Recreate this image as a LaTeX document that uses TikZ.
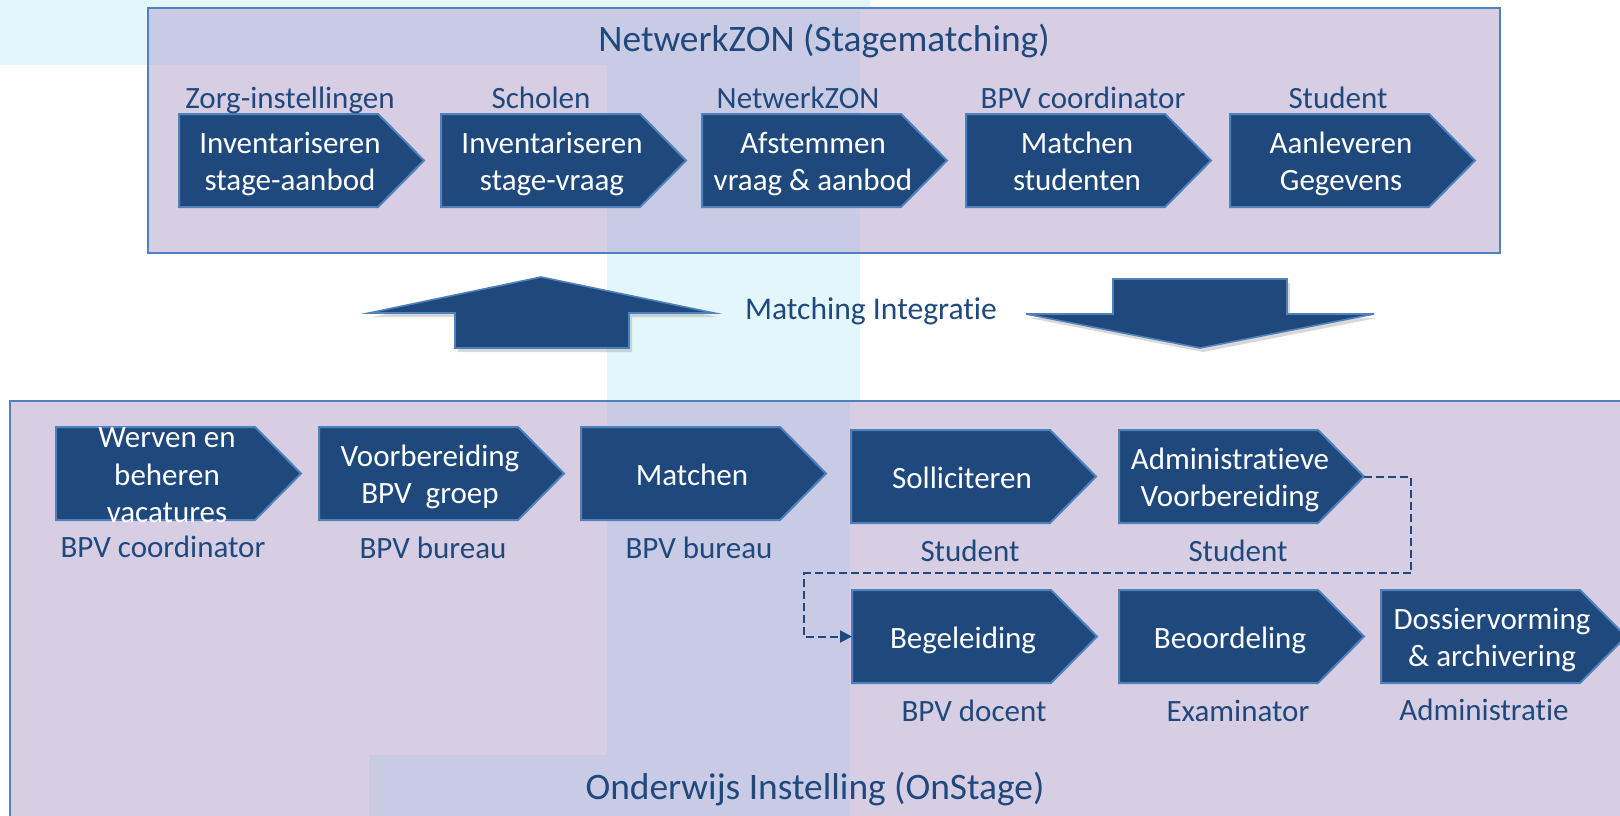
\documentclass[tikz,border=0pt]{standalone}
\usepackage{fontspec}
\setmainfont{Carlito}[Ligatures=NoCommon]
\usetikzlibrary{arrows.meta,shadows}
\definecolor{dkblue}{HTML}{1F497D}
\definecolor{edgeblue}{HTML}{4F81BD}
\definecolor{lav}{HTML}{D7CEE3}
\definecolor{tint}{HTML}{C9CAE4}
\definecolor{cyanbg}{HTML}{E3F6FC}
\tikzset{
  chevshape/.style={fill=dkblue, draw=edgeblue, line width=1pt, line join=miter},
  chevtext/.style={text=white, align=center, font=\fontsize{15.5}{18.8}\selectfont, inner sep=0pt},
  role/.style={text=dkblue, font=\fontsize{15.5}{18.8}\selectfont, anchor=base, inner sep=0pt},
  bigtitle/.style={text=dkblue, font=\fontsize{18.7}{22}\selectfont, anchor=base, inner sep=0pt},
  frame/.style={draw=edgeblue, line width=1pt},
  bigarrow/.style={fill=dkblue, draw=edgeblue, line width=0.8pt,
    drop shadow={opacity=0.3, shadow xshift=1.5pt, shadow yshift=-2pt}},
  flow/.style={draw=dkblue, line width=1pt, dash pattern=on 4pt off 2pt,
    -{Triangle[length=6pt,width=6pt]}}
}
\newcommand\chevron[4]{%
  \draw[chevshape] (#2,#3) -- ++(199,0) -- ++(46,46.5) -- ++(-46,46.5) -- ++(-199,0) -- cycle;
  \node[chevtext] (#1) at ({#2+111},{#3+50.5}) {\strut #4\strut};
  \coordinate (#1-w) at (#2,{#3+46.5});
  \coordinate (#1-e) at ({#2+245},{#3+46.5});
}
\begin{document}
\begin{tikzpicture}[x=0.5pt,y=-0.5pt]
\useasboundingbox (0,0) rectangle (1620,815);
\clip (0,0) rectangle (1620,815);
% background
\fill[white] (0,0) rectangle (1620,815);
\fill[cyanbg] (0,0) rectangle (870,65);
\fill[cyanbg] (607,0) rectangle (860,815);
% top frame
\fill[lav] (148,8) rectangle (1500,253);
\fill[tint] (148,8) rectangle (607,65);
\fill[tint] (607,8) rectangle (860,253);
\draw[frame] (148,8) rectangle (1500,253);
% bottom frame
\fill[lav] (10,401) rectangle (1640,830);
\fill[tint] (607,401) rectangle (850,830);
\fill[tint] (369,755) rectangle (607,830);
\draw[frame] (10,401) rectangle (1640,830);
% titles
\node[bigtitle] (ttop) at (824,51) {NetwerkZON (Stagematching)};
\node[bigtitle] (tbot) at (815,799) {Onderwijs Instelling (OnStage)};
\node[role, font=\fontsize{15.8}{19}\selectfont] (tmid) at (871,319) {Matching Integratie};
% big arrows
\draw[bigarrow] (541,277) -- (714,313) -- (629,313) -- (629,348) -- (455,348) -- (455,313) -- (369,313) -- cycle;
\draw[bigarrow] (1113,279) -- (1287,279) -- (1287,314) -- (1374,314) -- (1200,348) -- (1026,314) -- (1113,314) -- cycle;
% top row
\chevron{t1}{179}{114}{Inventariseren\\stage-aanbod}
\chevron{t2}{441}{114}{Inventariseren\\stage-vraag}
\chevron{t3}{702}{114}{Afstemmen\\vraag \& aanbod}
\chevron{t4}{966}{114}{Matchen\\studenten}
\chevron{t5}{1230}{114}{Aanleveren\\Gegevens}
\node[role] (rt1) at (290,108) {Zorg-instellingen};
\node[role] (rt2) at (541,108) {Scholen};
\node[role] (rt3) at (798,108) {NetwerkZON};
\node[role] (rt4) at (1083,108) {BPV coordinator};
\node[role] (rt5) at (1338,108) {Student};
% bottom rows
\chevron{wer}{56}{427}{Werven en\\beheren\\vacatures}
\chevron{voo}{319}{427}{Voorbereiding\\BPV\ \ groep}
\chevron{mat}{581}{427}{Matchen}
\chevron{sol}{851}{430}{Solliciteren}
\chevron{adm}{1119}{430}{Administratieve\\Voorbereiding}
\chevron{beg}{852}{590}{Begeleiding}
\chevron{beo}{1119}{590}{Beoordeling}
\chevron{dos}{1381}{590}{Dossiervorming\\\& archivering}
\node[role] (rwer) at (163,557) {BPV coordinator};
\node[role] (rvoo) at (433,558) {BPV bureau};
\node[role] (rmat) at (699,558) {BPV bureau};
\node[role] (rsol) at (970,561) {Student};
\node[role] (radm) at (1238,561) {Student};
\node[role] (rbeg) at (974,721) {BPV docent};
\node[role] (rbeo) at (1238,721) {Examinator};
\node[role] (rdos) at (1484,720) {Administratie};
% dashed connector
\coordinate (k1) at (1411,573);
\coordinate (k2) at (804,573);
\draw[flow] (adm-e) -| (k1) -- (k2) |- (beg-w);
\end{tikzpicture}
\end{document}
